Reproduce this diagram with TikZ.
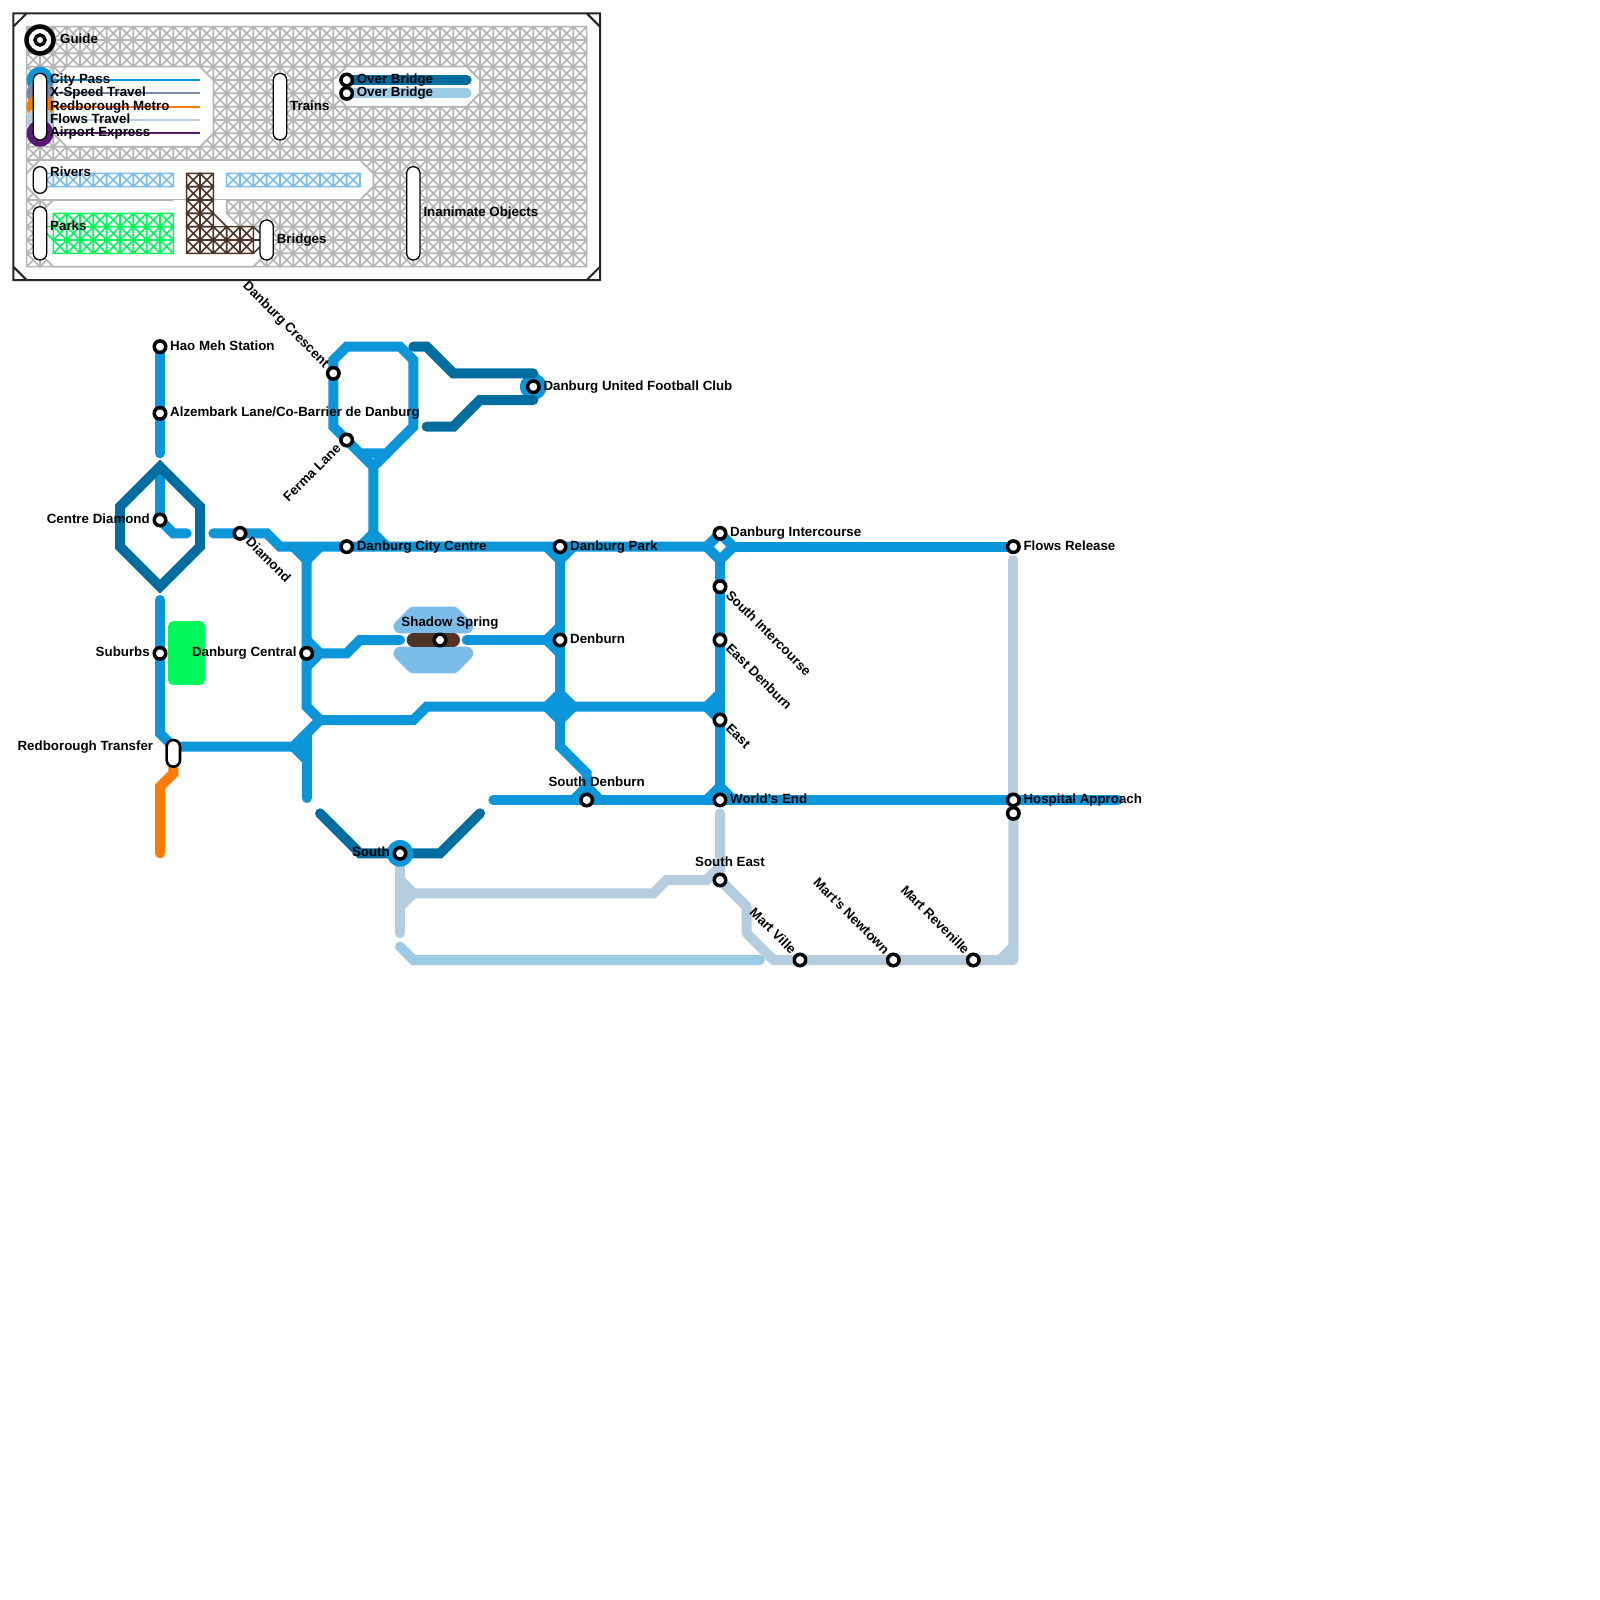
\documentclass[tikz,border=0pt]{standalone}
\usepackage{fontspec}
\setmainfont{Liberation Sans}
\definecolor{cblue}{HTML}{0A96D9}
\definecolor{cdark}{HTML}{006DA0}
\definecolor{cflow}{HTML}{B4CDDF}
\definecolor{cover}{HTML}{9CCBE8}
\definecolor{cgrey}{HTML}{B5B5B5}
\definecolor{cslate}{HTML}{7788A8}
\definecolor{corange}{HTML}{FF7A00}
\definecolor{cpurple}{HTML}{5A1A78}
\definecolor{cwater}{HTML}{7BBDE8}
\definecolor{cbrown}{HTML}{4E3528}
\definecolor{cpark}{HTML}{00F75A}
\newcommand{\hatchcells}[5]{%
  \fill[white] (#1,#2) rectangle (#3,#4);
  \begin{scope}[draw=#5,line width=1.6pt]
  \pgfmathtruncatemacro{\hxa}{#1}\pgfmathtruncatemacro{\hxb}{#3-1}
  \pgfmathtruncatemacro{\hya}{#2}\pgfmathtruncatemacro{\hyb}{#4-1}
  \foreach \hx in {\hxa,...,\hxb}{\foreach \hy in {\hya,...,\hyb}{
    \draw (\hx,\hy) rectangle ++(1,1) (\hx,\hy) -- ++(1,1) (\hx+1,\hy) -- ++(-1,1);
  }}
  \end{scope}}
\tikzset{
  net/.style={line width=10pt,line cap=round,line join=miter,miter limit=10},
  bluel/.style={net,draw=cblue},
  darkl/.style={net,draw=cdark},
  flowl/.style={net,draw=cflow},
  overl/.style={net,draw=cover},
  keyl/.style={line width=1.8pt},
  stn/.style={circle,draw=black,fill=white,line width=3.5pt,inner sep=0pt,outer sep=0pt,minimum size=11.5pt},
  capsule/.style={rounded corners=6.6pt,draw=black,fill=white,line width=1.3pt},
  lab/.style={font=\fontsize{13.33}{15}\selectfont\bfseries,inner sep=0pt,text=black},
  labR/.style={lab,anchor=base west},
  labL/.style={lab,anchor=base east},
  labT/.style={lab,anchor=base},
  labDR/.style={lab,anchor=base west,rotate=-45},
  labUL/.style={lab,anchor=base east,rotate=-45},
  labDL/.style={lab,anchor=base east,rotate=45},
  cut/.style={fill=white,draw=cgrey,line width=1.6pt},
}
\begin{document}
\begin{tikzpicture}[x=13.3333pt,y=-13.3333pt]
\useasboundingbox (0,0) rectangle (120,120);
\fill[white] (0,0) rectangle (120,120);
% ---------- legend box
\fill[white] (1,1) rectangle (45,21);
\hatchcells{2}{2}{44}{20}{cgrey}
\filldraw[cut] (5,5)--(15,5)--(16,6)--(16,10)--(15,11)--(5,11)--(4,10)--(4,6)--cycle;
\filldraw[cut] (26,5)--(35,5)--(36,6)--(36,7)--(35,8)--(26,8)--(25,7)--(25,6)--cycle;
\filldraw[cut] (3,12)--(27,12)--(28,13)--(28,14)--(27,15)--(3,15)--(2,14)--(2,13)--cycle;
\fill[white] (4,15)--(17,15)--(17,16)--(18,17)--(20,17)--(20,19)--(19,20)--(4,20)--(3,19)--(3,16)--cycle;
\draw[cgrey,line width=1.6pt] (3,15)--(13,15) (3,16)--(4,15) (3,19)--(4,20)--(19,20)--(20,19) (17,15)--(17,16)--(18,17)--(20,17);
\hatchcells{3}{13}{13}{14}{cwater}
\hatchcells{17}{13}{27}{14}{cwater}
\hatchcells{4}{16}{13}{19}{cpark}
\hatchcells{14}{13}{16}{19}{cbrown}
\hatchcells{16}{17}{19}{19}{cbrown}
\draw[cbrown,line width=1.6pt] (16,16)--(17,17) (19,17)--(20,18)--(19,19) (19,18)--(20,18);
\draw[cpark,line width=1.6pt] (3,17)--(4,17) (3,17)--(4,18);
\draw[black!85,line width=2pt] (1,1) rectangle (45,21)
  (1,2)--(2,1) (44,1)--(45,2) (1,20)--(2,21) (45,20)--(44,21);
% key lines
\fill[cblue] (3,6) circle (1);
\fill[cslate] (3,7) circle (1);
\fill[corange] (3,8) circle (1);
\fill[cflow] (3,9) circle (1);
\fill[cpurple] (3,10) circle (1);
\draw[keyl,cblue] (3,6)--(15,6);
\draw[keyl,cslate] (3,7)--(15,7);
\draw[keyl,corange] (3,8)--(15,8);
\draw[keyl,cflow] (3,9)--(15,9);
\draw[keyl,cpurple] (3,10)--(15,10);
\draw[darkl] (26,6)--(35,6);
\draw[overl] (26,7)--(35,7);
% ---------- coordinates of the stations
\coordinate (hao) at (12,26);
\coordinate (alz) at (12,31);
\coordinate (cen) at (12,39);
\coordinate (sub) at (12,49);
\coordinate (dia) at (18,40);
\coordinate (crs) at (25,28);
\coordinate (fer) at (26,33);
\coordinate (cty) at (26,41);
\coordinate (fc) at (40,29);
\coordinate (cnt) at (23,49);
\coordinate (shd) at (33,48);
\coordinate (par) at (42,41);
\coordinate (den) at (42,48);
\coordinate (int) at (54,40);
\coordinate (sin) at (54,44);
\coordinate (eden) at (54,48);
\coordinate (eas) at (54,54);
\coordinate (wor) at (54,60);
\coordinate (sde) at (44,60);
\coordinate (flo) at (76,41);
\coordinate (hos) at (76,60);
\coordinate (hob) at (76,61);
\coordinate (sou) at (30,64);
\coordinate (sea) at (54,66);
\coordinate (vil) at (60,72);
\coordinate (new) at (67,72);
\coordinate (rev) at (73,72);
\coordinate (tra) at (13,56);
\coordinate (trb) at (13,57);
% ---------- scenery
\filldraw[cpark,line width=10.7pt,line join=round] (13,47) rectangle (15,51);
\filldraw[cwater,line width=13.33pt,line join=round] (31,46)--(34,46)--(35,47)--(30,47)--cycle;
\filldraw[cwater,line width=13.33pt,line join=round] (30,49)--(35,49)--(34,50)--(31,50)--cycle;
\draw[cbrown,line width=13.33pt,line cap=round] (31,48)--(34,48);
% ---------- flows and over-bridge lines
\draw[overl] (30,71)--(31,72)--(57,72);
\draw[flowl] (76,42)--(hos);
\draw[flowl,line join=round] (wor)++(0,1)--(sea)--(56,68)--(56,70)--(58,72)--(76,72)--(hob);
\draw[flowl] (75,72)--(76,71);
\draw[flowl] (30,65)--(30,70);
\draw[flowl] (30,66)--(31,67)--(30,68);
\draw[flowl] (30,67)--(49,67)--(50,66)--(53,66)--(54,65);
% ---------- blue lines
\draw[bluel] (hao)--(12,34);
\draw[bluel] (12,35)--(cen)--(13,40)--(14,40);
\draw[bluel] (12,45)--(12,55)--(tra)--(23,56);
\draw[bluel] (16,40)--(20,40)--(21,41)--(53,41);
\draw[bluel] (55,41)--(flo);
\draw[bluel,line cap=butt] (53,41)--(int)--(55,41)--(54,42)--cycle;
\draw[bluel] (54,42)--(wor);
\draw[bluel] (23,41)--(23,53)--(24,54)--(31,54)--(32,53)--(54,53);
\draw[bluel] (23,55)--(23,59.85);
\draw[bluel] (22,41)--(23,42)--(24,41);
\draw[bluel] (27,41)--(28,40)--(29,41);
\draw[bluel] (28,41)--(28,35)--(27,34)--(fer)--(25,32)--(crs)--(25,27)--(26,26)--(30,26)--(31,27)--(31,32)--(29,34)--(27,34);
\draw[bluel] (29,34)--(28,35);
\draw[bluel] (42,41)--(42,56)--(44,58)--(sde);
\draw[bluel] (41,41)--(42,42)--(43,41);
\draw[bluel] (cnt)--(26,49)--(27,48)--(30,48);
\draw[bluel] (23,48)--(24,49)--(23,50);
\draw[bluel] (35,48)--(42,48);
\draw[bluel] (42,47)--(41,48)--(42,49);
\draw[bluel] (22,56)--(24,54);
\draw[bluel] (22,56)--(23,57);
\filldraw[bluel,fill=cblue,line cap=butt] (41,53)--(42,52)--(43,53)--(42,54)--cycle;
\draw[bluel] (54,52)--(53,53)--(54,54);
\draw[bluel] (37,60)--(83.85,60);
\draw[bluel] (43,60)--(44,59)--(45,60);
\draw[bluel] (53,60)--(54,59)--(55,60);
\fill[cblue] (fc) circle (1);
% ---------- other lines
\draw[line width=10pt,line cap=round,corange] (trb)--(13,58)--(12,59)--(12,64);
\draw[darkl,line cap=butt] (12,35)--(15,38)--(15,41)--(12,44)--(9,41)--(9,38)--cycle;
\draw[darkl] (40,28)--(34,28)--(32,26)--(31,26);
\draw[darkl] (40,30)--(36,30)--(34,32)--(32,32);
\draw[darkl] (24,61)--(27,64)--(33,64)--(36,61);
\fill[cblue] (sou) circle (1);
% ---------- capsules of the legend and the transfer
\draw[capsule] (2.5,5.5) rectangle (3.5,10.5);
\draw[capsule] (20.5,5.5) rectangle (21.5,10.5);
\draw[capsule] (2.5,12.5) rectangle (3.5,14.5);
\draw[capsule] (2.5,15.5) rectangle (3.5,19.5);
\draw[capsule] (19.5,16.5) rectangle (20.5,19.5);
\draw[capsule] (30.5,12.5) rectangle (31.5,19.5);
\draw[capsule,line width=2.6pt] (12.5,55.5) rectangle (13.5,57.5);
% ---------- station rings
\node[stn,minimum size=27pt,line width=4.5pt] (guide) at (3,3) {};
\node[stn,minimum size=10pt] (guideb) at (3,3) {};
\node[stn] (ob1) at (26,6) {};
\node[stn] (ob2) at (26,7) {};
\foreach \s in {hao,alz,cen,sub,dia,crs,fer,cty,fc,cnt,shd,par,den,int,sin,eden,eas,wor,sde,flo,hos,hob,sou,sea,vil,new,rev}{
  \node[stn] (n\s) at (\s) {};
}
% ---------- labels of the legend
\node[labR] (tguide) at (4.5,3.25) {Guide};
\node[labR] (t1) at (3.75,6.25) {City Pass};
\node[labR] (t2) at (3.75,7.25) {X-Speed Travel};
\node[labR] (t3) at (3.75,8.25) {Redborough Metro};
\node[labR] (t4) at (3.75,9.25) {Flows Travel};
\node[labR] (t5) at (3.75,10.25) {Airport Express};
\node[labR] (t6) at (21.75,8.25) {Trains};
\node[labR] (t7) at (26.75,6.25) {Over Bridge};
\node[labR] (t8) at (26.75,7.25) {Over Bridge};
\node[labR] (t9) at (3.75,13.25) {Rivers};
\node[labR] (t10) at (3.75,17.25) {Parks};
\node[labR] (t11) at (20.75,18.25) {Bridges};
\node[labR] (t12) at (31.75,16.25) {Inanimate Objects};
% ---------- labels of the stations
\node[labR] (lhao) at (12.75,26.25) {Hao Meh Station};
\node[labR] (lalz) at (12.75,31.25) {Alzembark Lane/Co-Barrier de Danburg};
\node[labL] (lcen) at (11.25,39.25) {Centre Diamond};
\node[labL] (lsub) at (11.25,49.25) {Suburbs};
\node[labL] (ltra) at (11.5,56.25) {Redborough Transfer};
\node[labDR] (ldia) at ([shift={(.37,.69)}]dia) {Diamond};
\node[labUL] (lcrs) at ([shift={(-.69,-.37)}]crs) {Danburg Crescent};
\node[labDL] (lfer) at ([shift={(-.37,.69)}]fer) {Ferma Lane};
\node[labR] (lcty) at (26.75,41.25) {Danburg City Centre};
\node[labR] (lfc) at (40.75,29.25) {Danburg United Football Club};
\node[labL] (lcnt) at (22.25,49.25) {Danburg Central};
\node[labT] (lshd) at (33.75,47) {Shadow Spring};
\node[labR] (lpar) at (42.75,41.25) {Danburg Park};
\node[labR] (lden) at (42.75,48.25) {Denburn};
\node[labR] (lint) at (54.75,40.25) {Danburg Intercourse};
\node[labDR] (lsin) at ([shift={(.37,.69)}]sin) {South Intercourse};
\node[labDR] (leden) at ([shift={(.37,.69)}]eden) {East Denburn};
\node[labDR] (leas) at ([shift={(.37,.69)}]eas) {East};
\node[labR] (lwor) at (54.75,60.25) {World's End};
\node[labT] (lsde) at (44.75,59) {South Denburn};
\node[labR] (lflo) at (76.75,41.25) {Flows Release};
\node[labR] (lhos) at (76.75,60.25) {Hospital Approach};
\node[labL] (lsou) at (29.25,64.25) {South};
\node[labT] (lsea) at (54.75,65) {South East};
\node[labUL] (lvil) at ([shift={(-.69,-.37)}]vil) {Mart Ville};
\node[labUL] (lnew) at ([shift={(-.69,-.37)}]new) {Mart's Newtown};
\node[labUL] (lrev) at ([shift={(-.69,-.37)}]rev) {Mart Revenille};
\end{tikzpicture}
\end{document}
